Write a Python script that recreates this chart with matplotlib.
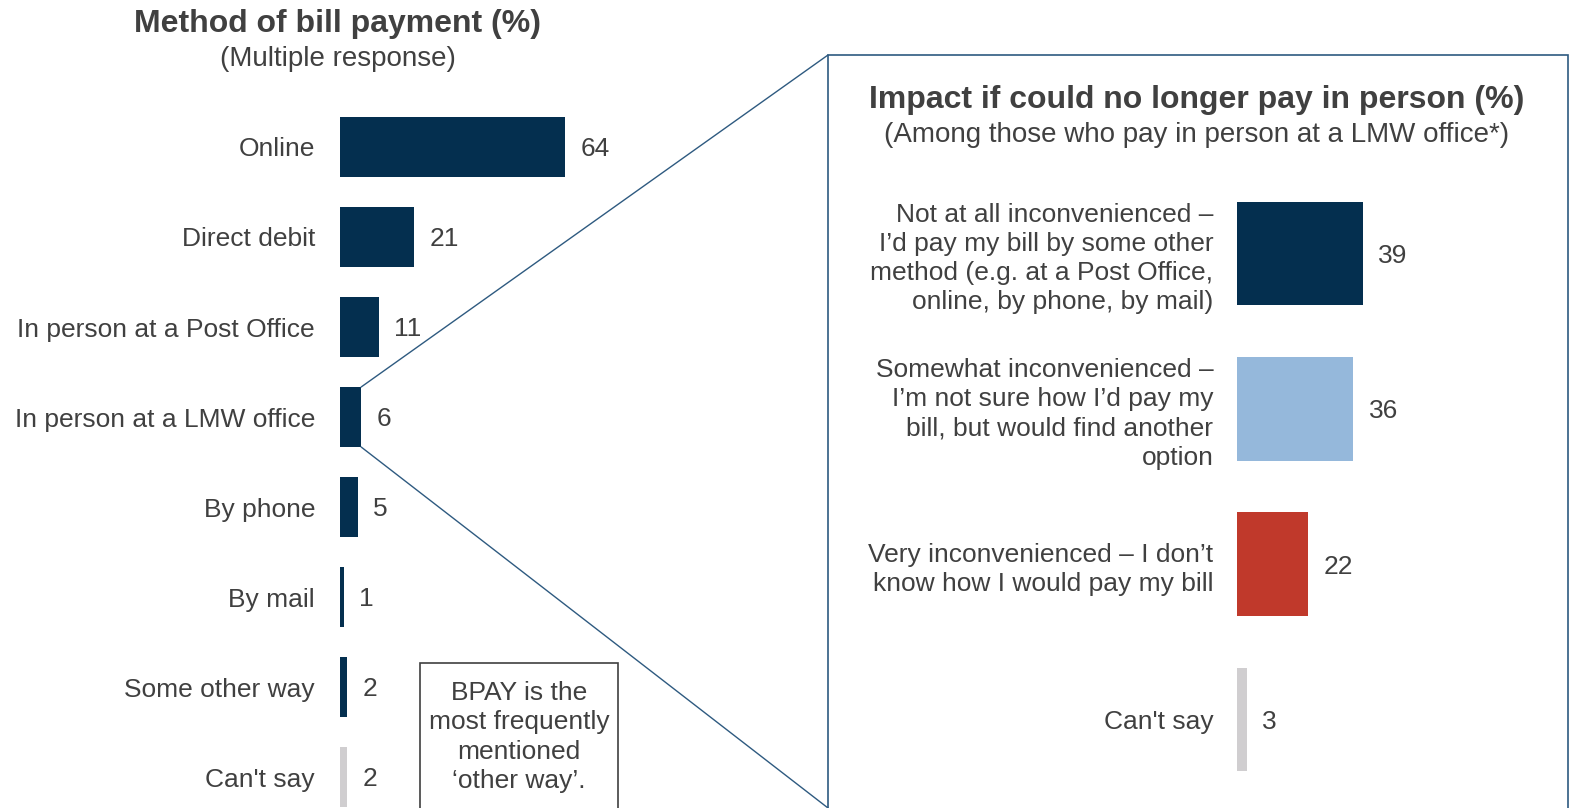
import matplotlib.pyplot as plt
from matplotlib.patches import Rectangle, ConnectionPatch

plt.rcParams['font.family'] = ['Liberation Sans', 'DejaVu Sans']

# left panel: method of bill payment
methods = ['Online', 'Direct debit', 'In person at a Post Office',
           'In person at a LMW office', 'By phone', 'By mail',
           'Some other way', "Can't say"]
method_pct = [64, 21, 11, 6, 5, 1, 2, 2]
method_colors = ['#042f4f'] * 7 + ['#d0ced0']

# right panel: impact if could no longer pay in person
impacts = ['Not at all inconvenienced \u2013\nI\u2019d pay my bill by some other\n'
           'method (e.g. at a Post Office,\nonline, by phone, by mail)',
           'Somewhat inconvenienced \u2013\nI\u2019m not sure how I\u2019d pay my\n'
           'bill, but would find another\noption',
           'Very inconvenienced \u2013 I don\u2019t\nknow how I would pay my bill',
           "Can't say"]
impact_pct = [39, 36, 22, 3]
impact_colors = ['#042f4f', '#95b8db', '#c0392b', '#d0ced0']

TEXT = '#404040'
W, H = 1570, 808

fig = plt.figure(figsize=(W / 100, H / 100), dpi=100)


def px_axes(x0, x1, y_top, y_bot):
    return fig.add_axes([x0 / W, 1 - y_bot / H, (x1 - x0) / W, (y_bot - y_top) / H])


def hbars(ax, labels, values, colors, xmax, pad):
    y = list(range(len(labels)))
    ax.barh(y, values, height=0.667, color=colors)
    ax.set_ylim(len(labels) - 0.5, -0.5)
    ax.set_xlim(0, xmax)
    ax.set_yticks(y)
    ax.set_yticklabels(labels, fontsize=19, color=TEXT, linespacing=1.27)
    ax.tick_params(axis='y', length=0, pad=pad)
    ax.set_xticks([])
    for s in ax.spines.values():
        s.set_visible(False)
    ax.patch.set_alpha(0)
    for yi, v in zip(y, values):
        ax.annotate(str(v), (v, yi), xytext=(11, 0), textcoords='offset points',
                    va='center_baseline', ha='left', fontsize=19, color=TEXT)


# left chart: 3.52 px per percent
axl = px_axes(340, 740, 102, 822)
hbars(axl, methods, method_pct, method_colors, 400 / 3.52, 18)

fig.text(338 / W, 1 - 24 / H, 'Method of bill payment (%)', ha='center', va='center',
         fontsize=23, fontweight='bold', color=TEXT)
fig.text(338 / W, 1 - 59 / H, '(Multiple response)', ha='center', va='center',
         fontsize=20, color=TEXT)

# note box about other ways
fig.text(519 / W, 1 - 737 / H, 'BPAY is the\nmost frequently\nmentioned\n\u2018other way\u2019.',
         ha='center', va='center', fontsize=19, color=TEXT, linespacing=1.27)
fig.patches.append(Rectangle((420 / W, -0.02), 198 / W, 1 - 663 / H + 0.02,
                             transform=fig.transFigure, fill=False,
                             edgecolor='#404040', lw=1.2))

# zoom panel frame
box_l, box_t = 828, 55
fig.patches.append(Rectangle((box_l / W, -0.02), (W - 2 - box_l) / W, 1 - box_t / H + 0.02,
                             transform=fig.transFigure, fill=False,
                             edgecolor='#2e5a80', lw=1.2))

# right chart: 3.23 px per percent
axr = px_axes(1237, 1560, 176, 797)
hbars(axr, impacts, impact_pct, impact_colors, 323 / 3.23, 17)

fig.text(1197 / W, 1 - 100 / H, 'Impact if could no longer pay in person (%)',
         ha='center', va='center', fontsize=23, fontweight='bold', color=TEXT)
fig.text(1197 / W, 1 - 135 / H, '(Among those who pay in person at a LMW office*)',
         ha='center', va='center', fontsize=20, color=TEXT)

# connectors from the LMW office bar to the zoom panel
i = methods.index('In person at a LMW office')
v = method_pct[i]
for dy, fy in [(-0.333, 1 - box_t / H), (0.333, 0.0)]:
    con = ConnectionPatch(xyA=(v, i + dy), coordsA=axl.transData,
                          xyB=(box_l / W, fy), coordsB=fig.transFigure,
                          color='#2e5a80', lw=1.0)
    fig.add_artist(con)

fig.savefig('out.png', dpi=100)
